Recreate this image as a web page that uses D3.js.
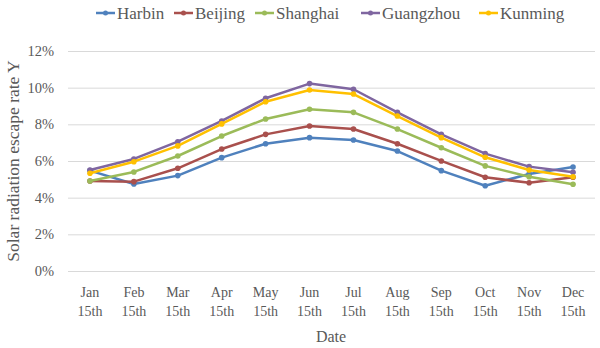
<!DOCTYPE html>
<html><head><meta charset="utf-8">
<script src="https://cdn.jsdelivr.net/npm/d3@7"></script>
<style>body{margin:0;background:#fff}svg{display:block}text{font-family:"Liberation Serif","DejaVu Serif",serif;fill:#595959}</style>
</head><body>
<script>
const months = ["Jan","Feb","Mar","Apr","May","Jun","Jul","Aug","Sep","Oct","Nov","Dec"];
const yTicks = [0,2,4,6,8,10,12];
const cities = ["Harbin","Beijing","Shanghai","Guangzhou","Kunming"];
const colors = ["#4f81bd","#a9504d","#9bbb59","#7f66a0","#ffc000"];
const harbin    = [5.50,4.77,5.23,6.21,6.97,7.30,7.17,6.57,5.50,4.68,5.32,5.70];
const beijing   = [4.94,4.90,5.63,6.68,7.48,7.94,7.77,6.97,6.03,5.14,4.84,5.14];
const shanghai  = [4.94,5.43,6.30,7.39,8.32,8.85,8.68,7.77,6.75,5.76,5.17,4.76];
const guangzhou = [5.54,6.14,7.08,8.21,9.45,10.25,9.94,8.68,7.48,6.43,5.72,5.41];
const kunming   = [5.36,5.99,6.85,8.05,9.26,9.90,9.68,8.48,7.30,6.23,5.54,5.17];
const series = [harbin,beijing,shanghai,guangzhou,kunming];

const W=600,H=348;
const svg=d3.select("body").append("svg").attr("width",W).attr("height",H);
const x=d3.scaleBand().domain(months).range([68,595]);
const y=d3.scaleLinear().domain([0,12]).range([271.5,51.5]);

svg.append("g").selectAll("line").data(yTicks).join("line")
  .attr("x1",68).attr("x2",595).attr("y1",d=>y(d)).attr("y2",d=>y(d))
  .attr("stroke","#d9d9d9").attr("stroke-width",1);
svg.append("g").selectAll("text").data(yTicks).join("text")
  .attr("x",54).attr("y",d=>y(d)+4.5).attr("text-anchor","end")
  .attr("font-size",14.5).text(d=>d+"%");
const xl=svg.append("g").selectAll("text").data(months).join("text")
  .attr("text-anchor","middle").attr("font-size",14);
xl.append("tspan").attr("x",d=>x(d)+x.bandwidth()/2).attr("y",297).text(d=>d);
xl.append("tspan").attr("x",d=>x(d)+x.bandwidth()/2).attr("y",316).text("15th");
svg.append("text").attr("x",331).attr("y",342).attr("text-anchor","middle").attr("font-size",16).text("Date");
svg.append("text").attr("transform","translate(19,161) rotate(-90)").attr("text-anchor","middle")
  .attr("font-size",17.5).text("Solar radiation escape rate Y");

const line=d3.line().x((d,i)=>x(months[i])+x.bandwidth()/2).y(d=>y(d));
series.forEach((s,k)=>{
  const g=svg.append("g");
  g.append("path").attr("d",line(s)).attr("fill","none").attr("stroke",colors[k])
    .attr("stroke-width",2.5).attr("stroke-linejoin","round").attr("stroke-linecap","round");
  g.selectAll("circle").data(s).join("circle")
    .attr("cx",(d,i)=>x(months[i])+x.bandwidth()/2).attr("cy",d=>y(d)).attr("r",2.8).attr("fill",colors[k]);
});

const legX=[96,174,255,361,479];
cities.forEach((c,k)=>{
  const g=svg.append("g").attr("transform",`translate(${legX[k]},13)`);
  g.append("line").attr("x1",0).attr("x2",19).attr("y1",0).attr("y2",0).attr("stroke",colors[k]).attr("stroke-width",2.5);
  g.append("circle").attr("cx",9.5).attr("cy",0).attr("r",2.5).attr("fill",colors[k]);
  g.append("text").attr("x",21).attr("y",5.5).attr("font-size",17).text(c);
});
</script>
</body></html>
